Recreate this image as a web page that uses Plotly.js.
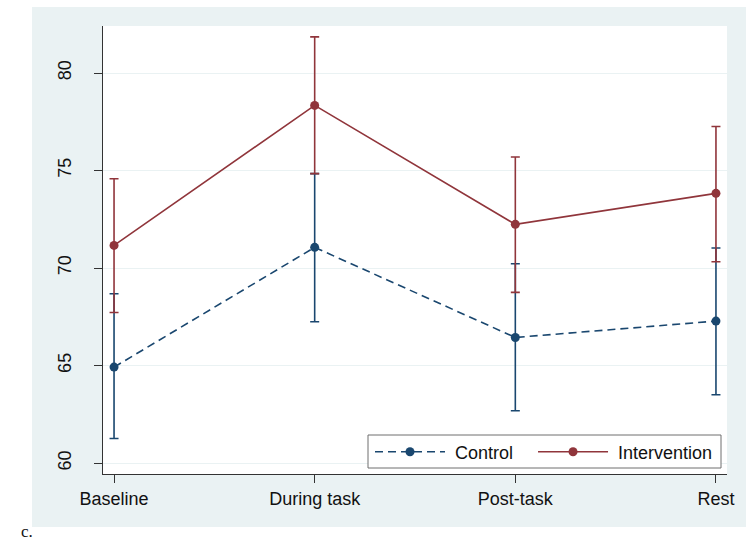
<!DOCTYPE html>
<html>
<head>
<meta charset="utf-8">
<script src="https://cdn.plot.ly/plotly-3.0.1.min.js"></script>
<style>
html, body { margin: 0; padding: 0; background: #ffffff; }
#chart { width: 754px; height: 543px; }
</style>
</head>
<body>
<div id="chart"></div>
<script>
// Data
var timepoints = ["Baseline", "During task", "Post-task", "Rest"];
var yTicks = [60, 65, 70, 75, 80];
var seriesNames = ["Control", "Intervention"];

var controlMean  = [64.92, 71.06, 66.44, 67.28];
var controlUpper = [68.68, 74.84, 70.22, 71.03];
var controlLower = [61.26, 67.25, 62.68, 63.50];

var interventionMean  = [71.16, 78.34, 72.24, 73.83];
var interventionUpper = [74.58, 81.85, 75.69, 77.26];
var interventionLower = [67.72, 74.84, 68.75, 70.32];

var navy = "#1a476f";
var maroon = "#90353b";
var panel = "#eaf2f3";
var NB = "\u00a0";

function diff(a, b) { return a.map(function (v, i) { return +(v - b[i]).toFixed(3); }); }

var traces = [
  {
    name: NB + seriesNames[0] + NB + NB + NB,
    x: timepoints,
    y: controlMean,
    type: "scatter",
    mode: "lines+markers",
    line: { color: navy, width: 1.6, dash: "8px,5px" },
    marker: { color: navy, size: 9 },
    error_y: {
      type: "data", symmetric: false,
      array: diff(controlUpper, controlMean),
      arrayminus: diff(controlMean, controlLower),
      color: navy, thickness: 1.6, width: 4.5
    }
  },
  {
    name: NB + seriesNames[1],
    x: timepoints,
    y: interventionMean,
    type: "scatter",
    mode: "lines+markers",
    line: { color: maroon, width: 1.6 },
    marker: { color: maroon, size: 9 },
    error_y: {
      type: "data", symmetric: false,
      array: diff(interventionUpper, interventionMean),
      arrayminus: diff(interventionMean, interventionLower),
      color: maroon, thickness: 1.6, width: 4.5
    }
  }
];

var L = 103, R = 27, T = 26, B = 69;
var pw = 754 - L - R, ph = 543 - T - B;
function px(x) { return (x - L) / pw; }
function py(y) { return (543 - B - y) / ph; }

var layout = {
  width: 754, height: 543,
  margin: { l: L, r: R, t: T, b: B, pad: 0 },
  paper_bgcolor: "#ffffff",
  plot_bgcolor: "rgba(0,0,0,0)",
  font: { family: "Liberation Sans, Arial, sans-serif", size: 18, color: "#111111" },
  showlegend: true,
  legend: {
    orientation: "h",
    x: px(370), y: py(452),
    xanchor: "left", yanchor: "middle",
    bgcolor: "rgba(0,0,0,0)",
    borderwidth: 0,
    itemwidth: 70,
    font: { size: 18, color: "#111111" },
    traceorder: "normal"
  },
  xaxis: {
    type: "category",
    categoryorder: "array",
    categoryarray: timepoints,
    range: [-0.055, 3.055],
    showline: true, linecolor: "#333333", linewidth: 1,
    ticks: "outside", ticklen: 8, tickcolor: "#333333", tickwidth: 1,
    showgrid: false, zeroline: false,
    tickfont: { size: 18, color: "#111111" }
  },
  yaxis: {
    range: [59.44, 82.41],
    tickvals: yTicks,
    ticktext: yTicks.map(String),
    tickangle: -90,
    ticklabelstandoff: 16,
    showline: true, linecolor: "#333333", linewidth: 1,
    ticks: "outside", ticklen: 8, tickcolor: "#333333", tickwidth: 1,
    showgrid: true, gridcolor: "#eaf2f3", gridwidth: 1,
    zeroline: false,
    tickfont: { size: 18, color: "#111111" }
  },
  shapes: [
    { type: "rect", xref: "paper", yref: "paper", layer: "below",
      x0: px(32), x1: px(746), y0: py(527), y1: py(7),
      fillcolor: panel, line: { width: 0 } },
    { type: "rect", xref: "paper", yref: "paper", layer: "below",
      x0: 0, x1: 1, y0: 0, y1: 1,
      fillcolor: "#ffffff", line: { width: 0 } },
    { type: "rect", xref: "paper", yref: "paper", layer: "above",
      x0: px(368), x1: px(721), y0: py(468), y1: py(435),
      fillcolor: "#ffffff", line: { color: "#6e6e6e", width: 1 } }
  ],
  annotations: [
    { text: "c.", xref: "paper", yref: "paper", x: px(19), y: py(531),
      xanchor: "left", yanchor: "middle", showarrow: false,
      font: { family: "Liberation Serif, Times New Roman, serif", size: 17, color: "#111111" } }
  ]
};

Plotly.newPlot("chart", traces, layout, { displayModeBar: false, staticPlot: true });
</script>
</body>
</html>
